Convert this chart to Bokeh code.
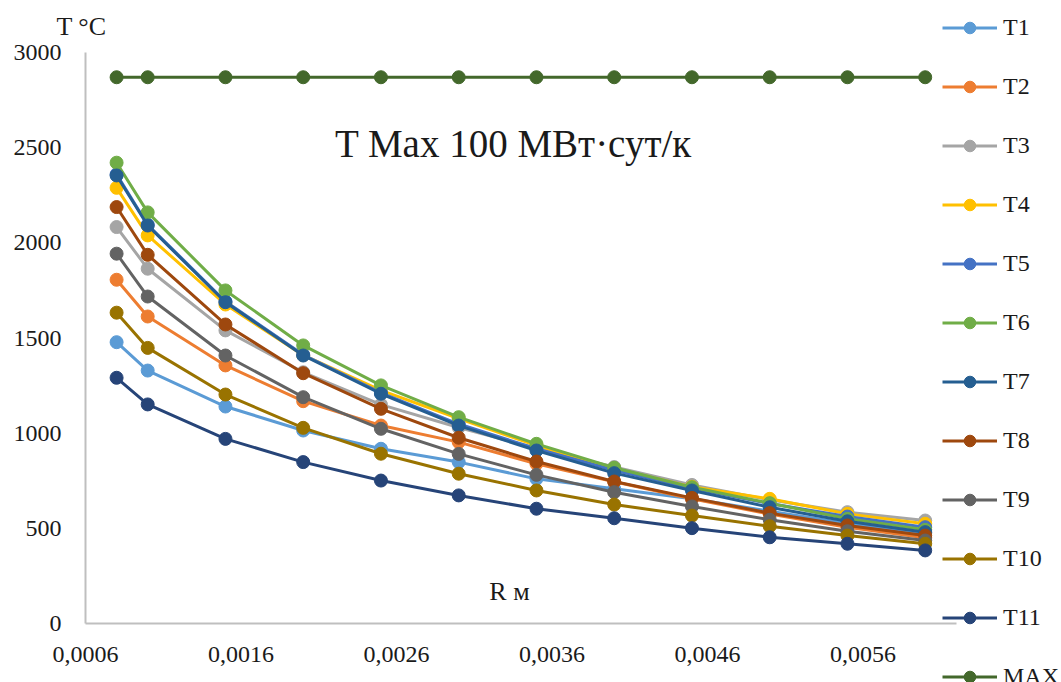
from bokeh.plotting import figure
from bokeh.models import Range1d, Legend, LegendItem, Label, FixedTicker, LinearAxis
from bokeh.embed import file_html
from bokeh.resources import INLINE

# ---- data ----
R = [0.0008, 0.001, 0.0015, 0.002, 0.0025, 0.003, 0.0035, 0.004, 0.0045, 0.005, 0.0055, 0.006]
T1 = [1478, 1329, 1140, 1014, 918, 848, 760, 708, 655, 590, 525, 475]
T2 = [1806, 1613, 1356, 1168, 1040, 953, 839, 745, 655, 575, 505, 450]
T3 = [2083, 1864, 1540, 1320, 1150, 1030, 920, 822, 728, 650, 585, 541]
T4 = [2289, 2039, 1676, 1410, 1225, 1077, 935, 815, 718, 655, 576, 524]
T5 = [2360, 2095, 1692, 1412, 1212, 1048, 918, 805, 710, 630, 562, 506]
T6 = [2421, 2160, 1750, 1461, 1251, 1084, 944, 818, 716, 632, 550, 492]
T7 = [2354, 2091, 1688, 1408, 1207, 1040, 909, 790, 699, 611, 537, 480]
T8 = [2188, 1937, 1571, 1315, 1128, 976, 851, 746, 660, 580, 515, 462]
T9 = [1943, 1718, 1408, 1189, 1023, 891, 781, 690, 615, 545, 485, 436]
T10 = [1633, 1448, 1203, 1028, 892, 787, 699, 625, 567, 511, 462, 419]
T11 = [1291, 1151, 970, 848, 751, 673, 603, 553, 501, 453, 419, 384]
MAX = [2870] * 12

series_names = ["T1", "T2", "T3", "T4", "T5", "T6", "T7", "T8", "T9", "T10", "T11", "MAX"]
series_values = [T1, T2, T3, T4, T5, T6, T7, T8, T9, T10, T11, MAX]
colors = ["#5B9BD5", "#ED7D31", "#A5A5A5", "#FFC000", "#4472C4", "#70AD47",
          "#255E91", "#9E480E", "#636363", "#997300", "#264478", "#43682B"]

x_ticks = [0.0006, 0.0016, 0.0026, 0.0036, 0.0046, 0.0056]
x_tick_labels = ["0,0006", "0,0016", "0,0026", "0,0036", "0,0046", "0,0056"]
y_ticks = [0, 500, 1000, 1500, 2000, 2500, 3000]

title_text = "T Max 100 МВт·сут/к"
y_label_text = "T °C"
x_label_text = "R м"

# ---- layout constants (pixels) ----
W, H = 1061, 682
X0_PX, PX_PER_X = 85, 155500.0       # x=0.0006 at 85 px, px per metre
Y0_PX, PX_PER_Y = 623, 571 / 3000.0  # y=0 at 623 px
XMIN_AX, XMAX_AX = 0.0006, 0.0062
YMIN_AX, YMAX_AX = 0, 3000

x_start = XMIN_AX - X0_PX / PX_PER_X
x_end = XMIN_AX + (W - X0_PX) / PX_PER_X
y_start = -(H - Y0_PX) / PX_PER_Y
y_end = Y0_PX / PX_PER_Y


def dx(px):
    return XMIN_AX + (px - X0_PX) / PX_PER_X


def dy(px):
    return (Y0_PX - px) / PX_PER_Y


FONT = "Liberation Serif"
TXT = "#1a1a1a"

p = figure(width=W, height=H,
           x_range=Range1d(x_start, x_end), y_range=Range1d(y_start, y_end),
           output_backend="svg", toolbar_location=None,
           x_axis_location=None, y_axis_location=None,
           min_border_left=0, min_border_right=0,
           min_border_top=0, min_border_bottom=0)
p.outline_line_color = None
p.grid.visible = False
p.background_fill_color = "white"

xaxis = LinearAxis(fixed_location=0, bounds=(XMIN_AX, XMAX_AX),
                   ticker=FixedTicker(ticks=x_ticks))
xaxis.major_label_overrides = {t: s for t, s in zip(x_ticks, x_tick_labels)}
xaxis.major_label_standoff = 23
yaxis = LinearAxis(fixed_location=XMIN_AX, bounds=(YMIN_AX, YMAX_AX),
                   ticker=FixedTicker(ticks=y_ticks))
yaxis.major_label_standoff = 24

for ax in (xaxis, yaxis):
    ax.axis_line_color = "#BFBFBF"
    ax.axis_line_width = 2
    ax.major_tick_line_color = None
    ax.minor_tick_line_color = None
    ax.major_tick_out = 0
    ax.major_tick_in = 0
    ax.major_label_text_font = FONT
    ax.major_label_text_font_size = "24px"
    ax.major_label_text_color = TXT

p.add_layout(xaxis, "below")
p.add_layout(yaxis, "left")

items = []
for name, vals, col in zip(series_names, series_values, colors):
    ln = p.line(R, vals, line_color=col, line_width=3)
    sc = p.scatter(R, vals, size=13, fill_color=col, line_color=col, marker="circle")
    items.append(LegendItem(label=name, renderers=[ln, sc]))

legend = Legend(items=items, location=(942, -9), padding=0, margin=0,
                spacing=30, glyph_height=29, label_height=29, glyph_width=55,
                label_standoff=6, border_line_color=None, background_fill_alpha=0,
                label_text_font=FONT, label_text_font_size="24px",
                label_text_color=TXT)
p.add_layout(legend)

p.add_layout(Label(x=dx(513), y=dy(143), text=title_text, text_font=FONT,
                   text_font_size="39px", text_color=TXT,
                   text_align="center", text_baseline="middle"))
p.add_layout(Label(x=dx(509), y=dy(591), text=x_label_text, text_font=FONT,
                   text_font_size="26px", text_color=TXT,
                   text_align="center", text_baseline="middle"))
p.add_layout(Label(x=dx(81), y=dy(26), text=y_label_text, text_font=FONT,
                   text_font_size="26px", text_color=TXT,
                   text_align="center", text_baseline="middle"))

open("out.html", "w").write(file_html(p, INLINE))
